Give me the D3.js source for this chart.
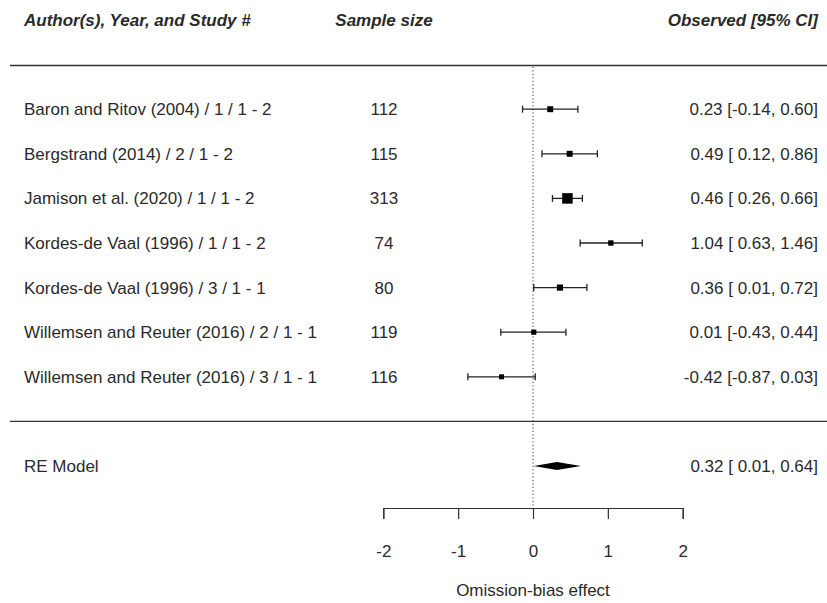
<!DOCTYPE html>
<html>
<head>
<meta charset="utf-8">
<script src="https://cdn.jsdelivr.net/npm/d3@7"></script>
<style>
body{margin:0;background:#fff}
text{font-family:"Liberation Sans",Arial,sans-serif;fill:#2a2a2a;white-space:pre}
</style>
</head>
<body>
<div id="chart"></div>
<script>

const studies = [
"Baron and Ritov (2004) / 1 / 1 - 2",
"Bergstrand (2014) / 2 / 1 - 2",
"Jamison et al. (2020) / 1 / 1 - 2",
"Kordes-de Vaal (1996) / 1 / 1 - 2",
"Kordes-de Vaal (1996) / 3 / 1 - 1",
"Willemsen and Reuter (2016) / 2 / 1 - 1",
"Willemsen and Reuter (2016) / 3 / 1 - 1"
]

const sampleSizes = [112,115,313,74,80,119,116]

const estimates = [0.23,0.49,0.46,1.04,0.36,0.01,-0.42]
const lower = [-0.14,0.12,0.26,0.63,0.01,-0.43,-0.87]
const upper = [0.60,0.86,0.66,1.46,0.72,0.44,0.03]

const reModel = {label:"RE Model", est:0.32, lb:0.01, ub:0.64}

const xTicks = [-2,-1,0,1,2]

const headers = ["Author(s), Year, and Study #","Sample size","Observed [95% CI]"]
const axisTitle = "Omission-bias effect"

const width = 827
const height = 603

const svg = d3.select("#chart")
.append("svg")
.attr("width",width)
.attr("height",height)

const x = d3.scaleLinear().domain([-2,2]).range([383.3,682.7])

// row positions: header at -2, rule at -1, studies 0..6, rule at 7, model at 8
const y = d3.scaleLinear().domain([-2,8]).range([20,466])

// R prints plain hyphen minus
const fmt = v => d3.format(".2f")(v).replace("\u2212","-")
function lab(e,l,u){
return fmt(e) + " [" + (l < 0 ? "" : " ") + fmt(l) + ", " + fmt(u) + "]"
}

const prec = estimates.map((d,i)=>3.92/(upper[i]-lower[i]))
const size = d3.scaleLinear().domain(d3.extent(prec)).range([5,10.5])

const fs = "17px"
const colX = 24
const colN = 384
const colR = 818

// header
svg.append("text")
.attr("x",colX).attr("y",y(-2)).attr("dy","0.35em")
.attr("font-size",fs).attr("font-weight","bold").attr("font-style","italic")
.text(headers[0])

svg.append("text")
.attr("x",colN).attr("y",y(-2)).attr("dy","0.35em")
.attr("text-anchor","middle")
.attr("font-size",fs).attr("font-weight","bold").attr("font-style","italic")
.text(headers[1])

svg.append("text")
.attr("x",colR).attr("y",y(-2)).attr("dy","0.35em")
.attr("text-anchor","end")
.attr("font-size",fs).attr("font-weight","bold").attr("font-style","italic")
.text(headers[2])

// rules
svg.selectAll("line.rule")
.data([-0.98,7])
.enter()
.append("line")
.attr("class","rule")
.attr("x1",10).attr("x2",width)
.attr("y1",d=>y(d)).attr("y2",d=>y(d))
.attr("stroke","#333")
.attr("stroke-width",1.4)

// reference line at zero
svg.append("line")
.attr("x1",x(0)).attr("x2",x(0))
.attr("y1",y(-0.95)).attr("y2",508)
.attr("stroke","#333")
.attr("stroke-width",1)
.attr("stroke-dasharray","1.2,2.3")

// study rows
const rows = svg.selectAll("g.row")
.data(studies)
.enter()
.append("g")
.attr("class","row")

rows.append("text")
.attr("x",colX).attr("y",(d,i)=>y(i)).attr("dy","0.35em")
.attr("font-size",fs)
.text(d=>d)

rows.append("text")
.attr("x",colN).attr("y",(d,i)=>y(i)).attr("dy","0.35em")
.attr("text-anchor","middle")
.attr("font-size",fs)
.text((d,i)=>sampleSizes[i])

rows.append("text")
.attr("x",colR).attr("y",(d,i)=>y(i)).attr("dy","0.35em")
.attr("text-anchor","end")
.attr("font-size",fs)
.text((d,i)=>lab(estimates[i],lower[i],upper[i]))

rows.append("line")
.attr("x1",(d,i)=>x(lower[i])).attr("x2",(d,i)=>x(upper[i]))
.attr("y1",(d,i)=>y(i)).attr("y2",(d,i)=>y(i))
.attr("stroke","#222").attr("stroke-width",1.3)

rows.append("line")
.attr("x1",(d,i)=>x(lower[i])).attr("x2",(d,i)=>x(lower[i]))
.attr("y1",(d,i)=>y(i)-3.5).attr("y2",(d,i)=>y(i)+3.5)
.attr("stroke","#222").attr("stroke-width",1.3)

rows.append("line")
.attr("x1",(d,i)=>x(upper[i])).attr("x2",(d,i)=>x(upper[i]))
.attr("y1",(d,i)=>y(i)-3.5).attr("y2",(d,i)=>y(i)+3.5)
.attr("stroke","#222").attr("stroke-width",1.3)

rows.append("rect")
.attr("x",(d,i)=>x(estimates[i])-size(prec[i])/2)
.attr("y",(d,i)=>y(i)-size(prec[i])/2)
.attr("width",(d,i)=>size(prec[i]))
.attr("height",(d,i)=>size(prec[i]))
.attr("fill","#000")

// RE model
svg.append("text")
.attr("x",colX).attr("y",y(8)).attr("dy","0.35em")
.attr("font-size",fs)
.text(reModel.label)

svg.append("text")
.attr("x",colR).attr("y",y(8)).attr("dy","0.35em")
.attr("text-anchor","end")
.attr("font-size",fs)
.text(lab(reModel.est,reModel.lb,reModel.ub))

svg.append("polygon")
.attr("points",[
[x(reModel.lb),y(8)],
[x(reModel.est),y(8)-4],
[x(reModel.ub),y(8)],
[x(reModel.est),y(8)+4]
].map(p=>p.join(",")).join(" "))
.attr("fill","#000")

// axis
const axis = svg.append("g")
.attr("transform","translate(0,508)")
.call(d3.axisBottom(x).tickValues(xTicks).tickFormat(d=>String(d)).tickSize(11).tickPadding(26))

axis.select(".domain").attr("stroke","#333").attr("stroke-width",1.2)
axis.selectAll(".tick line").attr("stroke","#333").attr("stroke-width",1.2)
axis.selectAll(".tick text").attr("font-size",fs).attr("font-family","Liberation Sans, Arial, sans-serif").attr("fill","#2a2a2a")

svg.append("text")
.attr("x",x(0)).attr("y",590).attr("dy","0.35em")
.attr("text-anchor","middle")
.attr("font-size",fs)
.text(axisTitle)

</script>
</body>
</html>
